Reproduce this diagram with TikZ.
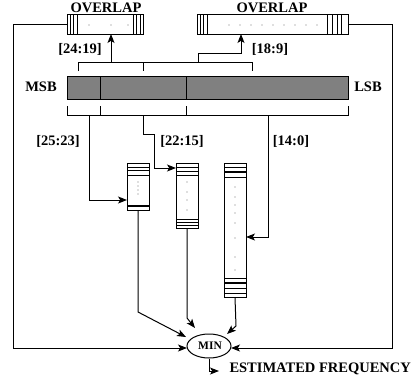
\documentclass[tikz,border=0pt]{standalone}
\usepackage{fontspec}
\setmainfont{Liberation Serif}
\usetikzlibrary{arrows.meta,shapes.geometric}
\begin{document}
\begin{tikzpicture}[x=1pt,y=-1pt,line width=1pt,
  lbl/.style={font=\bfseries\fontsize{14.5}{16}\selectfont,inner sep=0pt,anchor=base},
  arr/.style={-{Stealth[length=9pt,width=7pt,inset=2.2pt]}},
  boxn/.style={draw,rectangle,inner sep=0pt},
  thk/.style={line width=1.5pt},
  dotm/.style={fill=black!55,draw=none}]
\useasboundingbox (0,0) rectangle (418,389);

% ---------- overlap boxes ----------
\node[boxn,minimum width=76pt,minimum height=20pt] (ovL) at (105,24) {};
\node[boxn,minimum width=151pt,minimum height=20pt] (ovR) at (272.5,24) {};
\foreach \x in {70,73.5,77,133,136.5,140} \draw (\x,14) -- (\x,34);
\foreach \x in {200,203.5,207,327,332,337,341.5} \draw (\x,14) -- (\x,34);
\foreach \x in {89,111,128} \fill[dotm] (\x,25) circle (0.6);
\foreach \x in {229,240,...,318} \fill[dotm] (\x,25) circle (0.6);
\node[lbl] (tOvL) at (106,12) {OVERLAP};
\node[lbl] (tOvR) at (272,12) {OVERLAP};

% ---------- key bar ----------
\node[boxn,fill=black!50,minimum width=281pt,minimum height=23pt] (bar) at (207.5,87.5) {};
\draw (100,76) -- (100,99);
\draw (186,76) -- (186,99);
\node[lbl] (tMSB) at (41,91) {MSB};
\node[lbl] (tLSB) at (368,91) {LSB};

% ---------- top bracket ----------
\coordinate (tbL) at (78,62);
\coordinate (tbM) at (143,62);
\coordinate (tbR) at (252,62);
\coordinate (tb1) at (111,62);
\coordinate (tb2) at (198,62);
\coordinate (ovLin) at (111,34);
\coordinate (ovRin) at (241,34);
\draw (78,71) -- (tbL) -- (tbR) -- (252,71);
\draw (tbM) -- (143,71);
\draw[arr] (tb1) -- (ovLin);
\draw[arr] (tb2) -- (198,53) -| (ovRin);
\node[lbl] (t2419) at (80,53) {[24:19]};
\node[lbl] (t189) at (270,53) {[18:9]};

% ---------- bottom bracket ----------
\draw (67,106) -- (67,115) -- (348,115) -- (348,106);
\draw (100,106) -- (100,115);
\draw (186,106) -- (186,115);
\coordinate (lb1) at (89,115);
\coordinate (lb2) at (143,115);
\coordinate (lb3) at (268,115);
\node[lbl] (t2523) at (58,145) {[25:23]};
\node[lbl] (t2215) at (182,145) {[22:15]};
\node[lbl] (t140) at (291,145) {[14:0]};

% ---------- counter columns ----------
\node[boxn,minimum width=22pt,minimum height=47pt] (b1) at (138,186.5) {};
\node[boxn,minimum width=22pt,minimum height=65pt] (b2) at (187,195.5) {};
\node[boxn,minimum width=22pt,minimum height=134pt] (b3) at (235,230) {};
% box 1
\draw (127,167) -- (149,167);
\draw[thk] (127,170.5) -- (149,170.5);
\draw (127,175) -- (149,175);
\draw[thk] (127,206) -- (149,206);
\foreach \y in {182,186,190,194} \fill[dotm] (138,\y) circle (0.6);
% box 2
\draw (176,167) -- (198,167);
\draw[thk] (176,171.5) -- (198,171.5);
\draw (176,175) -- (198,175);
\draw (176,219) -- (198,219);
\draw[thk] (176,222.5) -- (198,222.5);
\draw (176,225) -- (198,225);
\foreach \y in {182,192,200,210} \fill[dotm] (187,\y) circle (0.6);
% box 3
\draw (224,167) -- (246,167);
\draw[thk] (224,172) -- (246,172);
\draw (224,177) -- (246,177);
\draw (224,278) -- (246,278);
\draw[thk] (224,283) -- (246,283);
\draw (224,288) -- (246,288);
\draw (224,293) -- (246,293);
\foreach \y in {187,197,205,213,223,238,257,270} \fill[dotm] (235,\y) circle (0.6);

\coordinate (b1in) at (127,200);
\coordinate (b2in) at (176,168);
\coordinate (b3in) at (246,237);
\draw[arr] (lb1) |- (b1in);
\draw[arr] (lb2) -- (143,134) -| (154,168) -- (b2in);
\draw[arr] (lb3) |- (b3in);

% ---------- MIN ----------
\node[draw,ellipse,minimum width=44pt,minimum height=24pt,inner sep=0pt] (min) at (209,346) {};
\node[font=\bfseries\fontsize{11.5}{13}\selectfont,inner sep=0pt,anchor=base] (tMIN) at (210,349) {MIN};

\coordinate (m1) at (186,337);
\coordinate (m2) at (195,328);
\coordinate (m3) at (227,334);
\coordinate (mL) at (187,348);
\coordinate (mR) at (231,348);
\draw[arr] (b1.south) -- (138,312) -- (m1);
\draw[arr] (b2.south) -- (187,318) -- (m2);
\draw[arr] (b3.south) -- (236,326) -- (m3);
\draw[arr] (ovL.west) -- (13,24) |- (mL);
\draw[arr] (ovR.east) -- (392,24) |- (mR);

\coordinate (outE) at (219,371);
\draw[arr] (min.south) |- (outE);
\node[lbl,anchor=base west] (tEst) at (229,372) {ESTIMATED FREQUENCY};
\end{tikzpicture}
\end{document}
